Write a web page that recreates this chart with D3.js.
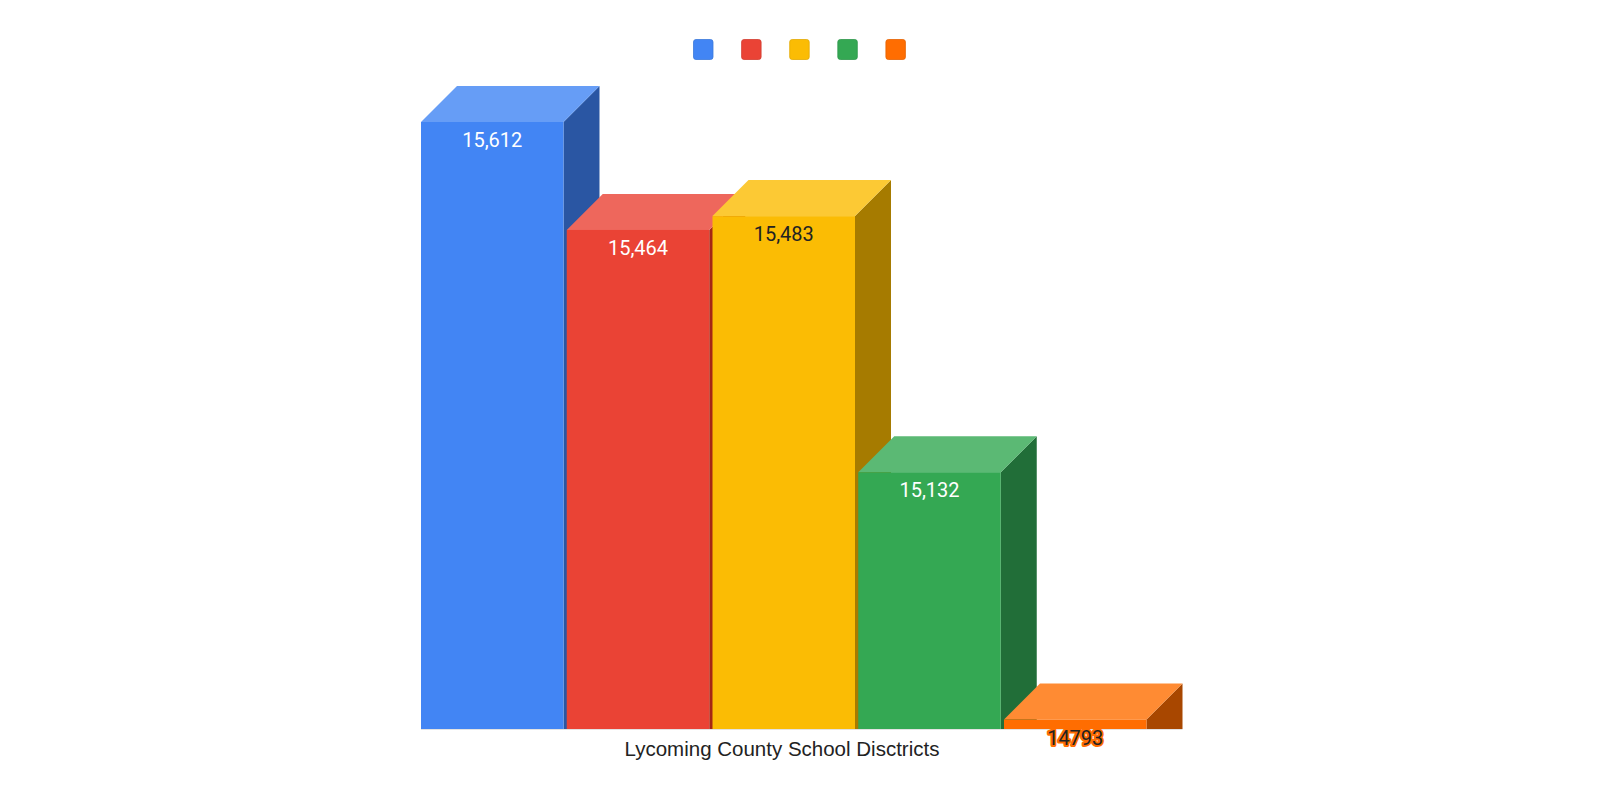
<!DOCTYPE html>
<html>
<head>
<meta charset="utf-8">
<script src="https://cdn.jsdelivr.net/npm/d3@7/dist/d3.min.js"></script>
<style>
  html, body { margin: 0; padding: 0; background: #ffffff; }
  svg { display: block; }
</style>
</head>
<body>
<svg id="chart" width="1600" height="800"></svg>
<script>
// ---- data ----
const axisTitle = "Lycoming County School Disctricts";
const seriesNames = ["", "", "", "", ""];
const seriesValues = [15612, 15464, 15483, 15132, 14793];
const valueLabels = ["15,612", "15,464", "15,483", "15,132", "14793"];
const frontColors = ["#4285F4", "#EA4335", "#FBBC04", "#34A853", "#FF6D01"];
const topColors   = ["#669DF6", "#EE675C", "#FCC934", "#5BB974", "#FF8B33"];
const sideColors  = ["#2A56A3", "#A52714", "#A67B00", "#216E38", "#A84700"];
const labelColors = ["#ffffff", "#ffffff", "#222222", "#ffffff", "#222222"];

const svg = d3.select("#chart");
const baseY = 729;
const depth = 36;

const x = d3.scaleBand()
  .domain(d3.range(seriesValues.length))
  .range([421, 1146.5])
  .paddingInner(0.0223)
  .paddingOuter(0);

const y = d3.scaleLinear()
  .domain([14780, 15612])
  .range([baseY, 122]);

// baseline
svg.append("line")
  .attr("x1", x(0)).attr("x2", x(4) + x.bandwidth() + depth)
  .attr("y1", baseY + 0.5).attr("y2", baseY + 0.5)
  .attr("stroke", "#e3e3e3").attr("stroke-width", 1);

const bars = svg.append("g");
seriesValues.forEach((v, i) => {
  const x0 = x(i), x1 = x(i) + x.bandwidth(), t = y(v);
  const g = bars.append("g");
  // side face
  g.append("path")
    .attr("d", `M${x1},${t}L${x1 + depth},${t - depth}L${x1 + depth},${baseY}L${x1},${baseY}Z`)
    .attr("fill", sideColors[i]);
  // top face
  g.append("path")
    .attr("d", `M${x0},${t}L${x1},${t}L${x1 + depth},${t - depth}L${x0 + depth},${t - depth}Z`)
    .attr("fill", topColors[i]);
  // front face
  g.append("rect")
    .attr("x", x0).attr("y", t)
    .attr("width", x.bandwidth()).attr("height", baseY - t)
    .attr("fill", frontColors[i]);
});

// value labels
const labels = svg.append("g")
  .attr("font-family", "Roboto, 'Noto Sans', sans-serif")
  .attr("font-size", 20)
  .attr("text-anchor", "middle");
seriesValues.forEach((v, i) => {
  const cx = x(i) + x.bandwidth() / 2;
  const ty = y(v) + 18;
  const outside = (baseY - y(v)) < 30;
  labels.append("text")
    .attr("x", cx).attr("y", ty)
    .attr("dy", "0.35em")
    .attr("fill", "none")
    .attr("stroke", frontColors[i])
    .attr("stroke-width", outside ? 4 : 1)
    .attr("stroke-linejoin", "round")
    .text(valueLabels[i]);
  labels.append("text")
    .attr("x", cx).attr("y", ty)
    .attr("dy", "0.35em")
    .attr("fill", labelColors[i])
    .text(valueLabels[i]);
});

// legend (series names are empty; only swatches shown)
const legend = svg.append("g");
seriesNames.forEach((name, i) => {
  legend.append("rect")
    .attr("x", 693.5 + i * 48.1).attr("y", 39.5)
    .attr("width", 19.5).attr("height", 20)
    .attr("rx", 2.5).attr("ry", 2.5)
    .attr("fill", frontColors[i])
    .attr("stroke", d3.color(frontColors[i]).darker(0.3))
    .attr("stroke-width", 0.8);
});

// axis title
svg.append("text")
  .attr("x", 782).attr("y", 749)
  .attr("dy", "0.35em")
  .attr("text-anchor", "middle")
  .attr("font-family", "'Liberation Sans', Arial, sans-serif")
  .attr("font-size", 20.5)
  .attr("fill", "#222222")
  .text(axisTitle);
</script>
</body>
</html>
